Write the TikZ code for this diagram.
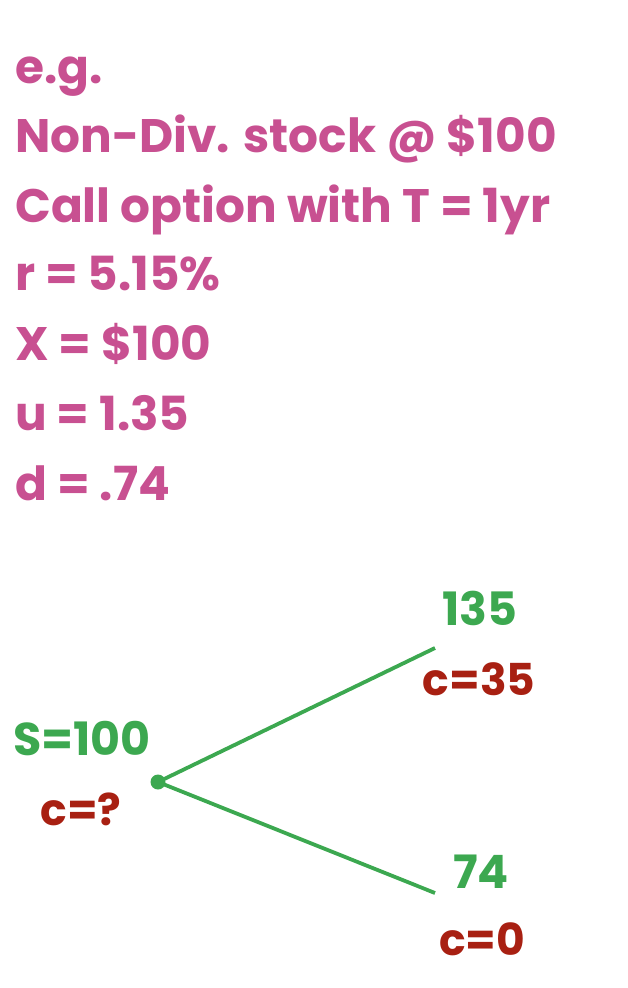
\documentclass[tikz,border=0pt]{standalone}
\usepackage{fontspec}
\setmainfont{Poppins}
\definecolor{pinkt}{RGB}{200,80,145}
\definecolor{greent}{RGB}{60,168,80}
\definecolor{redt}{RGB}{168,32,18}
\tikzset{
  txt/.style={inner sep=0pt, anchor=base west, text=pinkt, font=\fontsize{47}{50}\selectfont\bfseries},
  stk/.style={inner sep=0pt, anchor=base, text=greent, font=\fontsize{46}{50}\selectfont\bfseries},
  opt/.style={inner sep=0pt, anchor=base, text=redt, font=\fontsize{44}{48}\selectfont\bfseries},
  branch/.style={draw=greent, line width=3.8pt},
}
\begin{document}
\begin{tikzpicture}[x=1pt,y=-1pt]
\useasboundingbox (0,0) rectangle (628,988);
\node[txt] (l1) at (15,83) {e.g.};
\node[txt] (l2) at (15,152) {Non-Div. stock @ \$100};
\node[txt] (l3) at (15,222) {Call option with T = 1yr};
\node[txt] (l4) at (15,290) {r = 5.15\%};
\node[txt] (l5) at (15,360) {X = \$100};
\node[txt] (l6) at (15,430) {u = 1.35};
\node[txt] (l7) at (15,500) {d = .74};
\node[circle, fill=greent, minimum size=15pt, inner sep=0pt] (s0) at (158,782) {};
\coordinate (up) at (435,648);
\coordinate (dn) at (435,893);
\draw[branch] (s0.center) -- (up);
\draw[branch] (s0.center) -- (dn);
\node[stk] (s) at (82,755) {S=100};
\node[opt] (c0) at (81,825) {c=?};
\node[stk] (su) at (480,625) {135};
\node[opt] (cu) at (479,695) {c=35};
\node[stk] (sd) at (481,888) {74};
\node[opt] (cd) at (482,955) {c=0};
\end{tikzpicture}
\end{document}
